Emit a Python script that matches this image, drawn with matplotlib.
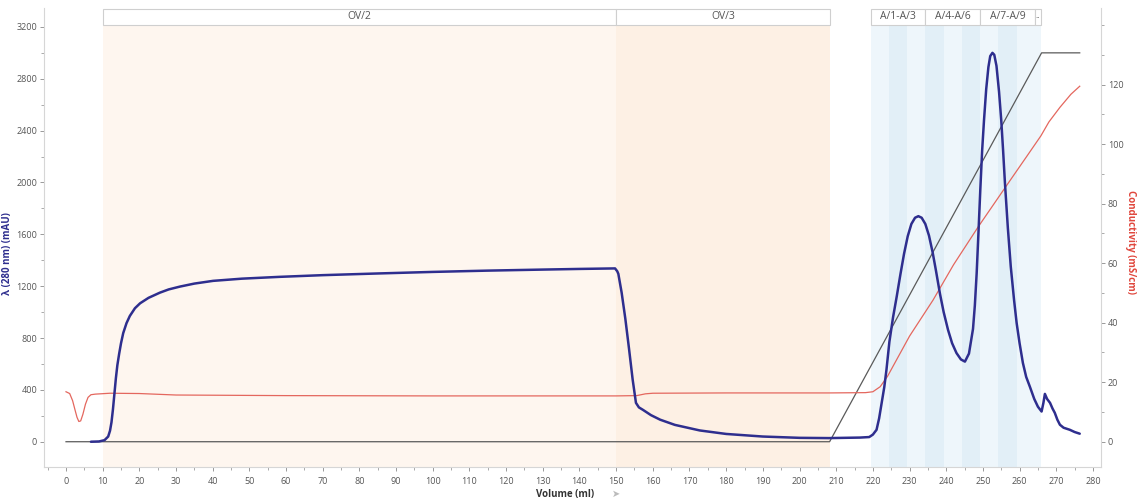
import matplotlib
matplotlib.use("Agg")
import matplotlib.pyplot as plt
import matplotlib.transforms as mtransforms
from matplotlib.patches import Rectangle
from matplotlib.ticker import MultipleLocator

plt.rcParams['font.family'] = ['Open Sans', 'DejaVu Sans']

# UV absorbance at 280 nm (mAU) against volume (ml)
uv_ml = [6.8, 9.0, 10.5, 11.5, 12.0, 12.4, 12.8, 13.2, 13.6, 14.0, 14.5, 15.0,
         15.6, 16.5, 17.4, 18.8, 20.2, 22.5, 25.6, 28.0, 31.1, 35.0, 40.1,
         48.0, 58.3, 70.0, 85.0, 100.0, 115.0, 130.0, 140.0, 149.7, 150.3,
         150.6, 151.5, 152.5, 153.5, 154.5, 155.4, 156.2, 157.3, 159.5, 162.0,
         166.0, 172.8, 180.0, 190.0, 200.0, 208.0, 216.5, 219.0, 220.0, 221.0,
         221.7, 222.4, 223.1, 223.7, 224.5, 225.5, 226.5, 227.5, 228.5, 229.5,
         230.5, 231.5, 232.4, 233.3, 234.3, 235.3, 236.3, 237.2, 238.3, 239.3,
         240.5, 241.6, 242.8, 244.0, 245.1, 246.2, 247.3, 247.8, 248.3, 248.8,
         249.3, 249.8, 250.3, 250.9, 251.5, 252.0, 252.6, 253.1, 253.7, 254.4,
         255.0, 255.5, 256.0, 256.8, 257.6, 258.5, 259.2, 260.0, 260.9, 261.8,
         262.8, 264.0, 265.0, 266.0, 266.5, 266.9, 267.5, 268.3, 269.0, 269.6,
         270.3, 271.0, 272.0, 273.7, 275.0, 276.4]
uv_mau = [0, 2, 12, 40, 85, 150, 250, 370, 490, 590, 680, 760,
          838, 915, 970, 1030, 1068, 1110, 1150, 1175, 1197, 1220, 1241,
          1258, 1272, 1285, 1298, 1310, 1320, 1328, 1333, 1337, 1315,
          1295, 1150, 950, 720, 480, 300, 265, 246, 205, 170,
          130, 87, 60, 40, 30, 28, 32, 36, 55, 92,
          180, 300, 420, 554, 770, 960, 1120, 1290, 1450, 1585,
          1680, 1728, 1740, 1728, 1680, 1590, 1460, 1320, 1140, 1000,
          862, 760, 684, 635, 618, 680, 870, 1050, 1300, 1620,
          1950, 2250, 2480, 2720, 2890, 2975, 3000, 2985, 2900, 2700,
          2480, 2250, 2000, 1650, 1350, 1092, 915, 760, 608, 500,
          425, 330, 270, 233, 300, 369, 330, 300, 255, 223,
          170, 131, 108, 92, 75, 62]

# conductivity (mS/cm)
cond_ml = [0.0, 1.0, 1.8, 2.5, 3.0, 3.5, 4.0, 4.6, 5.3, 6.0, 6.8, 8.0, 12.0,
           20.0, 30.0, 60.0, 100.0, 150.0, 155.6, 158.0, 160.0, 180.0, 208.0,
           218.0, 220.0, 222.0, 224.0, 226.0, 228.0, 230.0, 236.4, 242.0,
           248.7, 256.5, 262.0, 265.8, 268.0, 271.0, 274.0, 276.4]
cond_ms = [16.8, 16.2, 13.8, 10.5, 8.2, 6.8, 7.0, 9.2, 12.6, 14.9, 15.8, 16.0,
           16.3, 16.2, 15.7, 15.5, 15.4, 15.4, 15.5, 16.1, 16.3, 16.4, 16.4,
           16.5, 16.8, 18.5, 22.0, 26.5, 31.0, 35.5, 47.6, 59.5,
           72.2, 86.2, 96.0, 102.8, 107.5, 112.4, 116.8, 119.5]

# gradient, % buffer B
grad_ml = [0.0, 208.2, 266.0, 276.4]
grad_pct = [0, 0, 100, 100]

# sample application blocks
block_names = ['OV/2', 'OV/3']
block_edges = [10.0, 150.0, 208.2]
block_colors = ['#fef6ef', '#fdf0e4']

# collected fractions A/1 .. A/10
frac_edges = [219.5, 224.5, 229.4, 234.3, 239.3, 244.2, 249.2, 254.2, 259.2,
              264.2, 265.8]
group_names = ['A/1-A/3', 'A/4-A/6', 'A/7-A/9', '..']
group_edges = [219.5, 234.3, 249.2, 264.2, 265.8]

uv_col = '#2e2e8e'
cond_col = '#e4675e'
grad_col = '#5a5a5a'

fig = plt.figure(figsize=(11.42, 4.99), dpi=100)
ax = fig.add_axes([44 / 1142, 32 / 499, 1057 / 1142, 459 / 499])

ymin, ymax = -195, 3346
xmin, xmax = -6.0, 282.2
mau_per_ms = 22.95
mau_per_pct = 30.0

ax.set_xlim(xmin, xmax)
ax.set_ylim(ymin, ymax)

head_lo, head_hi = 0.963, 0.998
trans = mtransforms.blended_transform_factory(ax.transData, ax.transAxes)

# shaded blocks + header boxes
for i, name in enumerate(block_names):
    x0, x1 = block_edges[i], block_edges[i + 1]
    ax.axvspan(x0, x1, ymin=0, ymax=head_lo, color=block_colors[i], lw=0, zorder=0)
    ax.add_patch(Rectangle((x0, head_lo), x1 - x0, head_hi - head_lo,
                           transform=trans, facecolor='white', edgecolor='#cfcfcf',
                           lw=0.8, clip_on=False, zorder=3))
    ax.text((x0 + x1) / 2, (head_lo + head_hi) / 2, name, transform=trans,
            ha='center', va='center', fontsize=7.5, color='#555555', zorder=4)

for i in range(len(frac_edges) - 1):
    c = '#eef6fb' if i % 2 == 0 or i == len(frac_edges) - 2 else '#e2eff7'
    ax.axvspan(frac_edges[i], frac_edges[i + 1], ymin=0, ymax=head_lo,
               color=c, lw=0, zorder=0)

for i, name in enumerate(group_names):
    x0, x1 = group_edges[i], group_edges[i + 1]
    ax.add_patch(Rectangle((x0, head_lo), x1 - x0, head_hi - head_lo,
                           transform=trans, facecolor='white', edgecolor='#cfcfcf',
                           lw=0.8, clip_on=False, zorder=3))
    ax.text((x0 + x1) / 2, (head_lo + head_hi) / 2, name, transform=trans,
            ha='center', va='center', fontsize=7.5 if len(name) > 2 else 6,
            color='#555555', zorder=4)

# gradient (hidden axis)
ax_g = ax.twinx()
ax_g.set_ylim(ymin / mau_per_pct, ymax / mau_per_pct)
ax_g.plot(grad_ml, grad_pct, color=grad_col, lw=0.9)
ax_g.axis('off')

# conductivity on the right axis
ax_c = ax.twinx()
ax_c.set_ylim(ymin / mau_per_ms, ymax / mau_per_ms)
ax_c.plot(cond_ml, cond_ms, color=cond_col, lw=0.9)

# UV trace on top, same scale as left axis
ax_uv = ax.twinx()
ax_uv.set_ylim(ymin, ymax)
ax_uv.plot(uv_ml, uv_mau, color=uv_col, lw=1.8, solid_capstyle='round',
           solid_joinstyle='round')
ax_uv.axis('off')

# axes styling
for a in (ax, ax_c):
    for s in a.spines.values():
        s.set_visible(False)
ax.spines['left'].set_visible(True)
ax.spines['bottom'].set_visible(True)
ax_c.spines['right'].set_visible(True)
for s in (ax.spines['left'], ax.spines['bottom'], ax_c.spines['right']):
    s.set_color('#d6d6d6')
    s.set_linewidth(0.8)

ax.xaxis.set_major_locator(MultipleLocator(10))
ax.xaxis.set_minor_locator(MultipleLocator(5))
ax.yaxis.set_minor_locator(MultipleLocator(200))
ax_c.yaxis.set_minor_locator(MultipleLocator(10))

ax.set_yticks([v for v in range(0, 3201, 400)])
ax_c.set_yticks([v for v in range(0, 121, 20)])

for a in (ax, ax_c):
    a.tick_params(which='major', direction='out', length=3, width=0.7,
                  color='#999999', labelsize=6.5, labelcolor='#555555', pad=2)
    a.tick_params(which='minor', direction='out', length=2, width=0.7,
                  color='#aaaaaa')
ax.tick_params(axis='x', pad=4)

ax.set_ylabel('λ (280 nm) (mAU)', fontsize=7, fontweight='bold', color=uv_col)
ax.yaxis.set_label_coords(-0.029, 0.465)
ax_c.set_ylabel('Conductivity (mS/cm)', fontsize=7, fontweight='bold',
                color='#e0463c', rotation=270, va='center')
ax_c.yaxis.set_label_coords(1.028, 0.49)

fig.text(565 / 1142, 1 - 494 / 499, 'Volume (ml)', fontsize=7, fontweight='bold',
         color='#333333', ha='center', va='center')
fig.text(616 / 1142, 1 - 494 / 499, '➤', fontsize=7, color='#bbbbbb',
         ha='center', va='center', family=['DejaVu Sans'])

fig.savefig('out.png', dpi=100)
